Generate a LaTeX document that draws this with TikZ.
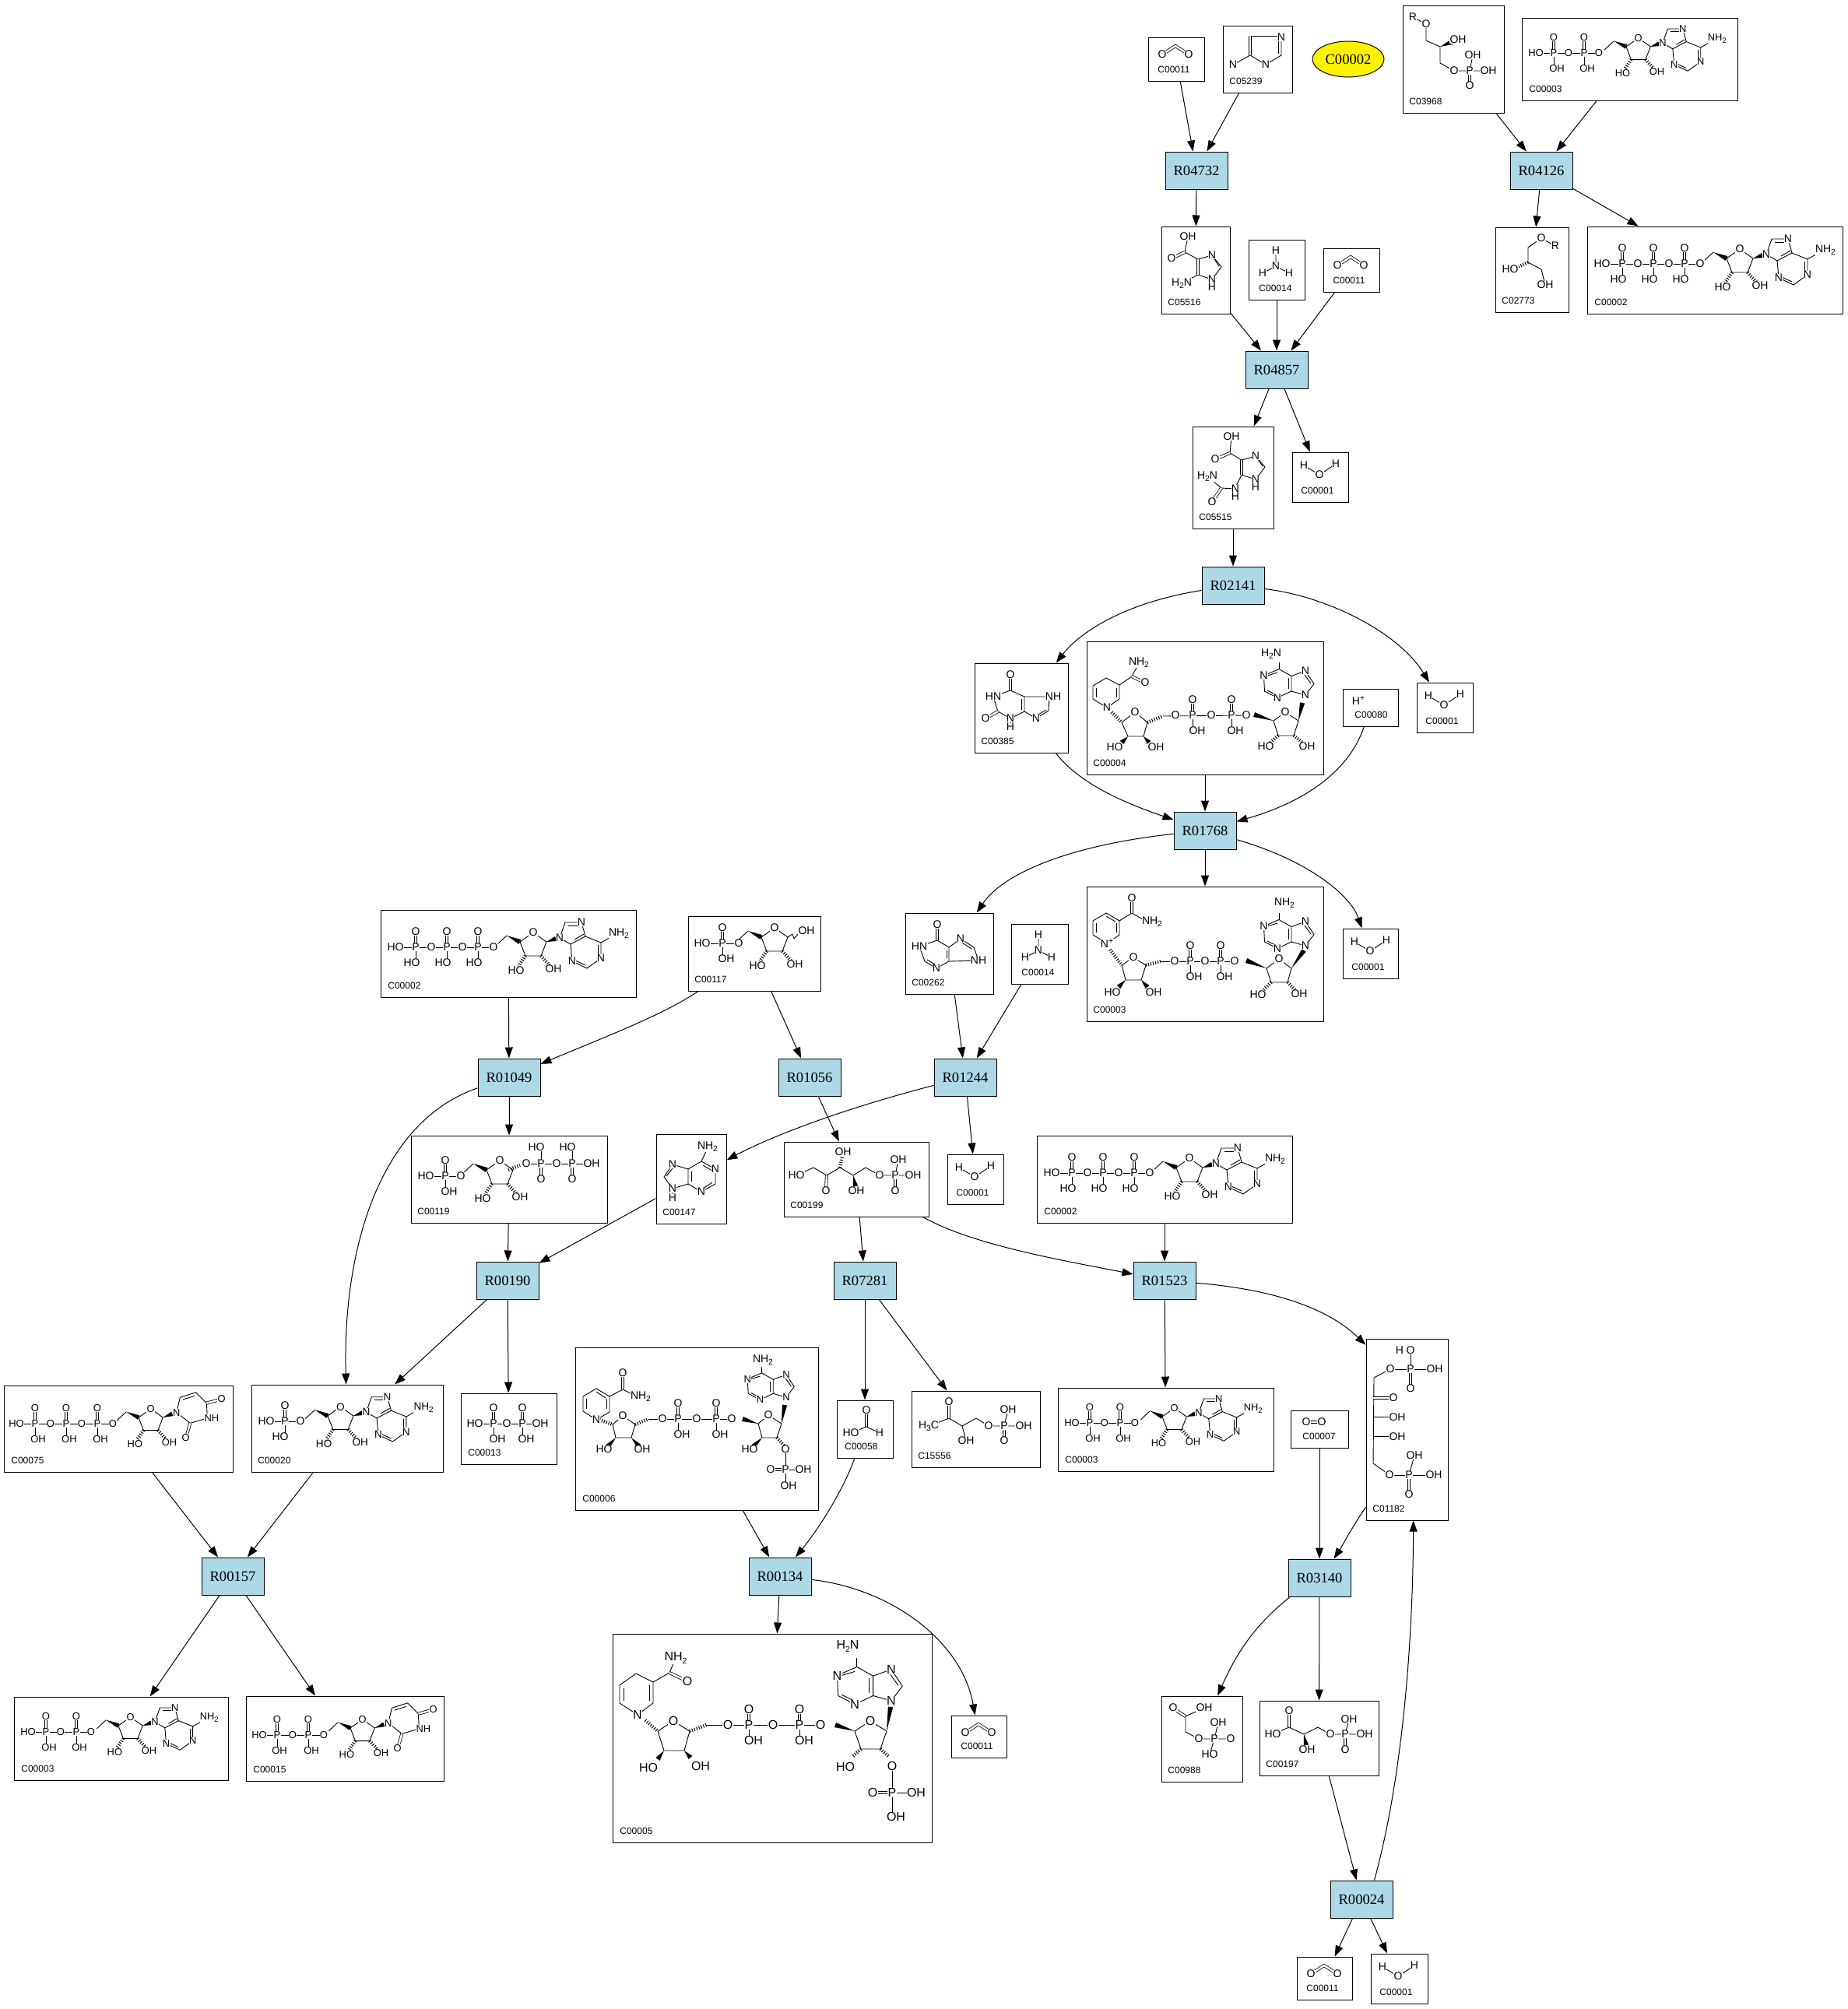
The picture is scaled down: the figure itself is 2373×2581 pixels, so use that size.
\documentclass[tikz,border=0pt]{standalone}
\usepackage{fontspec}
\setmainfont{Liberation Serif}
\newfontfamily\atomf{Liberation Sans}
\usetikzlibrary{arrows.meta,calc,shapes.geometric}
\definecolor{rxnblue}{HTML}{ADD8E6}
\newcounter{atomn}
\def\asz{7}
\tikzset{
  bond/.style={line width=.45pt,line join=round},
  dblb/.style={line width=.4pt,double=white,double distance=1.2pt},
  hashb/.style={line width=2.2pt,dash pattern=on .5pt off 1.05pt},
  atomsty/.style={font=\atomf\fontsize{\asz}{\asz}\selectfont,inner sep=.2pt,fill=white,transform shape},
  idlab/.style={font=\atomf\fontsize{6}{6}\selectfont,anchor=west,inner sep=0pt},
  cpdbox/.style={draw,fill=white,rectangle,inner sep=0pt,line width=.5pt},
  rxn/.style={draw,fill=rxnblue,rectangle,inner sep=0pt,line width=.5pt,minimum width=40pt,minimum height=24pt,font=\fontsize{9.3}{9.3}\selectfont},
  edge/.style={-{Triangle[length=7pt,width=5pt]},line width=.5pt}
}
\newcommand\atm[2]{\stepcounter{atomn}\node[atomsty] (at\theatomn) at (#1) {#2};}
\newcommand\lin[1]{\draw[bond] #1;}
\newcommand\dbl[1]{\draw[dblb] #1;}
\newcommand\hsh[2]{\draw[hashb] (#1) -- (#2);}
\newcommand\wdg[2]{\fill (#1) -- ($(#2)!1.6pt!90:(#1)$) -- ($(#2)!1.6pt!-90:(#1)$) -- cycle;}
\newcommand\sbs[1]{\raisebox{-.25em}{\fontsize{5.2}{5.2}\selectfont #1}}
\newcommand\sps[1]{\raisebox{.4em}{\fontsize{5.2}{5.2}\selectfont #1}}
\newcommand\phos[4]{\lin{(#1,#2)--(#1,#2+15)}\dbl{(#1,#2)--(#1,#2-17)}\atm{#1,#2}{P}\atm{#1,#2-20}{O}\atm{#1+#4,#2+20}{#3}}
% boxed compound: name, x0,y0,x1,y1, id, label x, body
\newcommand\cpd[8]{%
  \pgfmathsetmacro\cw{(#4-#2)*.5}\pgfmathsetmacro\ch{(#5-#3)*.5}\pgfmathsetmacro\hh{#5-#3-14.5}%
  \node[cpdbox,minimum width=\cw pt,minimum height=\ch pt] (#1) at ({(#2+#4)/2},{(#3+#5)/2}) {};
  \begin{scope}[shift={(#2,#3)}]
    \node[idlab] (#1id) at (#7,\hh) {#6};
    #8
  \end{scope}}
% ribose, origin at C4'
\newcommand\ribo{%
  \lin{(-30,4)--(-17,-8)}\wdg{-17,-8}{0,0}
  \lin{(0,0)--(7,18)--(27,18)--(34,0)--(17,-12)--cycle}
  \hsh{7,18}{-2,31}\hsh{27,18}{38,30}
  \atm{-5,37}{HO}\atm{43,35}{OH}\atm{17,-12}{O}}
\newcommand\adeB{%
  \wdg{34,0}{46,-4}
  \lin{(51,-5)--(58,-25)--(79,-25)--(84,-7)--(65,3)--(51,-5)}
  \lin{(65,3)--(67,25)--(86,34)--(104,21)--(104,1)--(84,-7)}
  \lin{(104,1)--(120,-8)}
  \lin{(62,-21)--(75,-21)}\lin{(70,-3)--(82,-10)}\lin{(71,24)--(84,30)}\lin{(100,17)--(100,4)}
  \atm{51,-5}{N}\atm{79,-25}{N}\atm{67,25}{N}\atm{104,21}{N}\atm{127,-11}{NH\sbs{2}}}
\newcommand\uraB{%
  \wdg{34,0}{47,-5}
  \lin{(53,-7)--(58,-28)--(80,-35)--(95,-20)--(96,1)--(72,8)--(53,-7)}
  \lin{(62,-25)--(78,-30)}\dbl{(95,-20)--(114,-25)}\dbl{(72,8)--(67,26)}
  \atm{53,-7}{N}\atm{116,-26}{O}\atm{102,1}{NH}\atm{66,28}{O}}
\newcommand\mATP{%
  \lin{(19,48)--(145,48)}
  \begin{scope}[shift={(179,41)}]\ribo\adeB\end{scope}
  \phos{45}{48}{HO}{-5}\phos{85}{48}{HO}{-5}\phos{125}{48}{HO}{-5}
  \atm{19,48}{HO}\atm{65,48}{O}\atm{105,48}{O}\atm{145,48}{O}}
\newcommand\mADP{%
  \def\asz{6.5}
  \lin{(18,45)--(99,45)}
  \begin{scope}[shift={(134,37)},scale=.92]\def\asz{7}\ribo\adeB\end{scope}
  \phos{41}{45}{OH}{4}\phos{80}{45}{OH}{4}
  \atm{18,45}{HO}\atm{60,45}{O}\atm{99,45}{O}}
\newcommand\mAMP{%
  \lin{(19,47)--(63,47)}
  \begin{scope}[shift={(98,40)},scale=.97]\ribo\adeB\end{scope}
  \phos{43}{47}{HO}{-6}
  \atm{19,47}{HO}\atm{63,47}{O}}
\newcommand\mUTP{%
  \def\asz{6.5}
  \lin{(16,49)--(140,49)}
  \begin{scope}[shift={(173,41)},scale=.92]\def\asz{7}\ribo\uraB\end{scope}
  \phos{40}{49}{OH}{4}\phos{80}{49}{OH}{4}\phos{120}{49}{OH}{4}
  \atm{16,49}{HO}\atm{60,49}{O}\atm{100,49}{O}\atm{140,49}{O}}
\newcommand\mUDP{%
  \def\asz{6.5}
  \lin{(17,50)--(100,50)}
  \begin{scope}[shift={(134,41)},scale=.92]\def\asz{7}\ribo\uraB\end{scope}
  \phos{40}{50}{OH}{3}\phos{80}{50}{OH}{4}
  \atm{17,50}{HO}\atm{60,50}{O}\atm{100,50}{O}}
\newcommand\mCOO{\dbl{(18,22)--(35,11)--(52,22)}\atm{18,22}{O}\atm{52,22}{O}}
\newcommand\mHOH{\lin{(15,17)--(35,29)--(56,15)}\atm{15,17}{H}\atm{35,29}{O}\atm{56,15}{H}}
\newcommand\mNHHH{\lin{(35,14)--(35,34)--(18,43)}\lin{(35,34)--(52,43)}\atm{35,14}{H}\atm{35,34}{N}\atm{18,43}{H}\atm{52,43}{H}}
% purine drawn upright, origin at N9
\newcommand\purU{%
  \lin{(0,0)--(11,-14.5)--(0,-31)--(-18,-24.5)--(-18,-5)--(0,0)}
  \lin{(-18,-5)--(-36,3.5)--(-52.5,-5)--(-53.5,-25)--(-34,-33.5)--(-18,-24.5)}
  \lin{(-34,-33.5)--(-34,-42)}
  \lin{(7,-15)--(-1,-26)}\lin{(-22,-22)--(-22,-8)}\lin{(-37,0)--(-49,-6)}\lin{(-49,-25)--(-36,-29)}
  \atm{0,0}{N}\atm{0,-31}{N}\atm{-36,3.5}{N}\atm{-53.5,-25}{N}}
\newcommand\mNADH{%
  \lin{(8,57)--(8,74)--(26,85)--(42,74)--(42,56)--(25,47)--(8,57)}
  \lin{(12,60)--(12,72)}\lin{(38,60)--(38,72)}
  \lin{(42,56)--(58,45)--(65,32)}\dbl{(58,45)--(72,52)}
  \hsh{32,91}{45,104}
  \lin{(45,104)--(62,91)--(78,104)--(73,122)--(53,122)--cycle}
  \wdg{53,122}{45,130}\wdg{73,122}{80,130}
  \hsh{78,104}{98,96}
  \lin{(98,96)--(205,95)}
  \wdg{240,102}{215,94}
  \lin{(240,102)--(255,91)--(272,102)--(266,121)--(246,121)--cycle}
  \hsh{246,121}{236,130}\hsh{266,121}{277,130}
  \wdg{272,102}{277,79}
  \begin{scope}[shift={(281,69)}]\purU\end{scope}
  \phos{136}{95}{OH}{6}\phos{186}{95}{OH}{5}
  \atm{26,85}{N}\atm{67,27}{NH\sbs{2}}\atm{75,53}{O}\atm{62,91}{O}\atm{36,136}{HO}\atm{89,136}{OH}
  \atm{114,95}{O}\atm{160,95}{O}\atm{205,95}{O}\atm{255,91}{O}\atm{230,135}{HO}\atm{283,135}{OH}
  \atm{237,16}{H\sbs{2}N}}
\newcommand\mNAD{%
  \lin{(8,44)--(8,62)--(26,73)--(42,62)--(42,44)--(25,34)--(8,44)}
  \lin{(12,47)--(12,59)}\lin{(38,47)--(38,59)}\lin{(25,38)--(37,45)}
  \lin{(42,44)--(58,34)--(72,42)}\dbl{(58,34)--(58,18)}
  \hsh{30,81}{45,101}
  \lin{(45,101)--(60,91)--(76,101)--(70,120)--(50,120)--cycle}
  \wdg{50,120}{41,129}\wdg{70,120}{78,129}
  \hsh{76,101}{95,96}
  \lin{(95,96)--(190,96)}
  \wdg{231,105}{205,95}
  \lin{(231,105)--(247,93)--(263,105)--(258,123)--(237,123)--cycle}
  \hsh{237,123}{227,133}\hsh{258,123}{268,133}
  \wdg{263,105}{279,82}
  \begin{scope}[shift={(281,76)}]\purU\end{scope}
  \phos{133}{96}{OH}{5}\phos{172}{96}{OH}{5}
  \atm{26,73}{N\sps{+}}\atm{84,45}{NH\sbs{2}}\atm{58,15}{O}\atm{60,91}{O}\atm{33,136}{HO}\atm{86,136}{OH}
  \atm{113,96}{O}\atm{152,96}{O}\atm{190,96}{O}\atm{247,93}{O}\atm{220,139}{HO}\atm{273,138}{OH}
  \atm{254,21}{NH\sbs{2}}}
\newcommand\mNADP{%
  \lin{(10,63)--(10,82)--(27,93)--(44,83)--(44,63)--(27,53)--(10,63)}
  \lin{(14,66)--(14,79)}\lin{(40,66)--(40,79)}\lin{(27,57)--(39,65)}
  \lin{(44,63)--(61,54)--(75,61)}\dbl{(61,54)--(61,36)}
  \hsh{31,93}{48,99}
  \lin{(48,99)--(61,88)--(77,99)--(72,116)--(52,116)--cycle}
  \wdg{52,116}{42,127}\wdg{72,116}{82,127}
  \hsh{77,99}{94,92}
  \lin{(94,92)--(201,92)}
  \wdg{235,98}{215,92}
  \lin{(235,98)--(248,87)--(265,98)--(259,116)--(240,116)--cycle}
  \wdg{240,116}{229,127}\hsh{259,116}{268,126}
  \wdg{265,98}{269,74}
  \lin{(270,131)--(270,176)}\lin{(270,157)--(293,157)}\dbl{(270,157)--(251,157)}
  \begin{scope}[shift={(271,64)},scale=.93]\purU\end{scope}
  \phos{132}{92}{OH}{5}\phos{181}{92}{OH}{5}
  \atm{27,93}{N}\atm{84,63}{NH\sbs{2}}\atm{61,33}{O}\atm{61,88}{O}\atm{37,131}{HO}\atm{86,131}{OH}
  \atm{112,92}{O}\atm{156,92}{O}\atm{201,92}{O}\atm{248,87}{O}\atm{224,131}{HO}
  \atm{270,131}{O}\atm{270,157}{P}\atm{251,157}{O}\atm{293,157}{OH}\atm{274,178}{OH}
  \atm{241,16}{NH\sbs{2}}}
\newcommand\mNADPH{%
  \def\asz{8}
  \lin{(9,66)--(9,89)--(32,104)--(52,89)--(52,62)--(30,51)--(9,66)}
  \lin{(14,70)--(14,86)}\lin{(47,66)--(47,86)}
  \lin{(52,62)--(73,50)--(79,36)}\dbl{(73,50)--(92,59)}
  \hsh{42,111}{58,125}
  \lin{(58,125)--(78,112)--(99,125)--(92,150)--(66,150)--cycle}
  \wdg{66,150}{58,161}\wdg{92,150}{100,159}
  \hsh{99,125}{121,117}
  \lin{(121,117)--(267,117)}
  \wdg{311,125}{286,117}
  \lin{(311,125)--(331,112)--(352,125)--(344,148)--(319,148)--cycle}
  \hsh{319,148}{309,157}\hsh{344,148}{354,157}
  \wdg{352,125}{357,94}
  \lin{(359,170)--(359,230)}\lin{(359,204)--(390,204)}\dbl{(359,204)--(334,204)}
  \begin{scope}[shift={(358,86)},scale=1.3]\def\asz{6.2}\purU\end{scope}
  \phos{175}{117}{OH}{6}\phos{240}{117}{OH}{6}
  \atm{32,104}{N}\atm{81,31}{NH\sbs{2}}\atm{96,61}{O}\atm{78,112}{O}\atm{46,172}{HO}\atm{113,170}{OH}
  \atm{148,117}{O}\atm{206,117}{O}\atm{267,117}{O}\atm{331,112}{O}\atm{299,171}{HO}
  \atm{359,170}{O}\atm{359,204}{P}\atm{334,204}{O}\atm{390,204}{OH}\atm{364,235}{OH}
  \atm{302,16}{H\sbs{2}N}}
\begin{document}
\begin{tikzpicture}[x=.5pt,y=-.5pt]
\fill[white] (0,0) rectangle (2373,2581);
\useasboundingbox (0,0) rectangle (2373,2581);
% reactions
\node[rxn] (r04732) at (1537,219) {R04732};
\node[rxn] (r04126) at (1980,219) {R04126};
\node[rxn] (r04857) at (1640,475) {R04857};
\node[rxn] (r02141) at (1584,752) {R02141};
\node[rxn] (r01768) at (1548,1067) {R01768};
\node[rxn] (r01049) at (654,1384) {R01049};
\node[rxn] (r01056) at (1040,1384) {R01056};
\node[rxn] (r01244) at (1240,1384) {R01244};
\node[rxn] (r00190) at (652,1645) {R00190};
\node[rxn] (r07281) at (1111,1645) {R07281};
\node[rxn] (r01523) at (1496,1645) {R01523};
\node[rxn] (r00157) at (299,2025) {R00157};
\node[rxn] (r00134) at (1002,2025) {R00134};
\node[rxn] (r03140) at (1695,2027) {R03140};
\node[rxn] (r00024) at (1749,2440) {R00024};
\node[draw,fill=yellow,ellipse,inner sep=0pt,line width=.5pt,minimum width=46pt,minimum height=23pt,font=\fontsize{9.3}{9.3}\selectfont] (c00002y) at (1732,76) {C00002};
% compounds
\cpd{c11a}{1475}{48}{1547}{104}{C00011}{12}{\mCOO}
\cpd{c5239}{1571}{33}{1660}{119}{C05239}{8}{%
  \lin{(36,13)--(72,13)}\lin{(75,18)--(75,38)--(55,50)--(35,38)--(13,50)}\dbl{(35,13)--(35,38)}\lin{(71,20)--(71,36)}
  \atm{75,15}{N}\atm{55,50}{N}\atm{13,50}{N}}
\cpd{c3968}{1802}{7}{1932}{145}{C03968}{8}{%
  \lin{(13,15)--(30,24)--(30,45)--(48,53)--(48,74)--(66,84)--(110,84)}
  \wdg{48,53}{63,47}\lin{(86,84)--(90,64)}\dbl{(86,84)--(86,103)}
  \atm{13,15}{R}\atm{30,24}{O}\atm{71,44}{OH}\atm{66,84}{O}\atm{86,84}{P}\atm{90,64}{OH}\atm{110,84}{OH}\atm{86,103}{O}}
\cpd{c3top}{1955}{23}{2232}{129}{C00003}{9}{\mADP}
\cpd{c5516}{1492}{291}{1580}{403}{C05516}{8}{%
  \lin{(34,13)--(30,33)--(47,42)--(65,37)--(77,52)--(65,68)--(47,62)--(26,73)}
  \dbl{(30,33)--(13,41)}\dbl{(47,42)--(47,62)}\lin{(65,68)--(65,78)}\lin{(68,42)--(74,51)}
  \atm{34,13}{OH}\atm{13,41}{O}\atm{65,37}{N}\atm{65,68}{N}\atm{65,78}{H}\atm{26,73}{H\sbs{2}N}}
\cpd{c14a}{1604}{308}{1676}{385}{C00014}{13}{\mNHHH}
\cpd{c11b}{1700}{319}{1772}{375}{C00011}{12}{\mCOO}
\cpd{c2773}{1921}{292}{2015}{401}{C02773}{8}{%
  \lin{(77,24)--(59,14)--(42,26)--(42,45)--(59,54)--(64,74)}\hsh{42,45}{27,52}
  \atm{59,14}{O}\atm{77,24}{R}\atm{19,54}{HO}\atm{64,74}{OH}}
\cpd{c2b}{2039}{291}{2367}{403}{C00002}{9}{\mATP}
\cpd{c5515}{1532}{548}{1636}{679}{C05515}{8}{%
  \lin{(50,13)--(48,34)--(63,43)--(81,38)--(93,52)--(81,68)--(63,62)--(55,78)}
  \lin{(55,80)--(37,79)--(19,64)}\dbl{(37,79)--(25,97)}\dbl{(48,34)--(29,42)}\dbl{(63,43)--(63,62)}
  \lin{(81,68)--(81,78)}\lin{(84,42)--(90,51)}\lin{(55,82)--(55,90)}
  \atm{50,13}{OH}\atm{29,42}{O}\atm{81,38}{N}\atm{81,68}{N}\atm{81,78}{H}\atm{19,64}{H\sbs{2}N}\atm{25,97}{O}\atm{55,80}{N}\atm{55,90}{H}}
\cpd{c1a}{1660}{581}{1732}{645}{C00001}{11}{\mHOH}
\cpd{c385}{1252}{852}{1372}{967}{C00385}{8}{%
  \dbl{(46,35)--(46,18)}\lin{(46,35)--(24,43)--(30,62)--(46,71)--(64,62)--(64,43)--(46,35)}
  \lin{(64,43)--(96,43)--(95,61)--(79,71)--(64,62)}\dbl{(30,62)--(16,70)}\lin{(46,71)--(46,82)}
  \lin{(60,46)--(60,60)}\lin{(82,66)--(92,60)}
  \atm{46,15}{O}\atm{24,43}{HN}\atm{14,71}{O}\atm{46,71}{N}\atm{46,82}{H}\atm{101,43}{NH}\atm{79,71}{N}}
\cpd{c4}{1396}{824}{1700}{995}{C00004}{8}{\mNADH}
\cpd{c80}{1725}{885}{1796}{933}{C00080}{15}{\atm{20,15}{H\sps{+}}}
\cpd{c1b}{1820}{877}{1892}{941}{C00001}{11}{\mHOH}
\cpd{c262}{1163}{1173}{1276}{1277}{C00262}{8}{%
  \dbl{(41,35)--(41,18)}\lin{(41,35)--(18,43)--(25,62)--(40,71)--(56,62)--(56,44)--(41,35)}
  \lin{(56,44)--(71,33)--(88,44)--(94,61)--(56,62)}\lin{(53,48)--(53,58)}\lin{(73,38)--(85,46)}\lin{(28,60)--(38,66)}
  \atm{41,15}{O}\atm{18,43}{HN}\atm{40,71}{N}\atm{71,33}{N}\atm{94,61}{NH}}
\cpd{c14b}{1299}{1187}{1372}{1264}{C00014}{13}{\mNHHH}
\cpd{c3b}{1396}{1139}{1700}{1312}{C00003}{8}{\mNAD}
\cpd{c1c}{1725}{1193}{1796}{1257}{C00001}{11}{\mHOH}
\cpd{c2c}{489}{1169}{817}{1281}{C00002}{9}{\mATP}
\cpd{c117}{884}{1177}{1054}{1273}{C00117}{8}{%
  \lin{(18,35)--(65,35)}
  \begin{scope}[shift={(94,27)}]\ribo\end{scope}
  \lin{(128,27)--(134,23)--(136,29)--(142,22)}
  \phos{44}{35}{OH}{5}\atm{18,35}{HO}\atm{65,35}{O}\atm{152,19}{OH}}
\cpd{c119}{528}{1459}{780}{1571}{C00119}{8}{%
  \lin{(19,52)--(64,52)}
  \begin{scope}[shift={(97,44)}]\ribo\end{scope}
  \hsh{125,44}{140,38}
  \lin{(148,36)--(232,36)}
  \lin{(167,36)--(167,15)}\lin{(207,36)--(207,15)}\dbl{(167,36)--(167,54)}\dbl{(207,36)--(207,54)}
  \phos{44}{52}{OH}{5}\atm{19,52}{HO}\atm{64,52}{O}\atm{148,36}{O}\atm{167,36}{P}\atm{187,36}{O}\atm{207,36}{P}
  \atm{161,15}{HO}\atm{201,15}{HO}\atm{167,56}{O}\atm{207,56}{O}\atm{232,36}{OH}}
\cpd{c147}{843}{1457}{933}{1572}{C00147}{8}{%
  \lin{(66,18)--(58,35)--(76,45)--(76,64)--(58,74)--(41,64)--(41,45)--(58,35)}
  \lin{(41,45)--(21,39)--(10,55)--(21,70)--(41,64)}\lin{(21,70)--(21,82)}
  \lin{(45,48)--(45,61)}\lin{(60,40)--(72,47)}\lin{(60,70)--(72,62)}\lin{(13,54)--(21,44)}
  \atm{66,16}{NH\sbs{2}}\atm{76,45}{N}\atm{58,74}{N}\atm{21,39}{N}\atm{21,70}{N}\atm{21,82}{H}}
\cpd{c199}{1007}{1467}{1193}{1563}{C00199}{8}{%
  \lin{(16,43)--(38,33)--(55,43)--(72,33)--(89,43)--(105,33)--(123,43)--(166,43)}
  \dbl{(55,43)--(54,61)}\hsh{72,33}{75,18}\wdg{89,43}{92,57}\lin{(143,43)--(147,23)}\dbl{(143,43)--(143,61)}
  \atm{16,43}{HO}\atm{54,63}{O}\atm{76,13}{OH}\atm{93,63}{OH}\atm{123,43}{O}\atm{143,43}{P}\atm{147,23}{OH}\atm{166,43}{OH}\atm{143,63}{O}}
\cpd{c1d}{1217}{1483}{1289}{1547}{C00001}{11}{\mHOH}
\cpd{c2d}{1332}{1459}{1660}{1571}{C00002}{9}{\mATP}
\cpd{c75}{5}{1780}{299}{1891}{C00075}{9}{\mUTP}
\cpd{c20}{323}{1779}{569}{1891}{C00020}{8}{\mAMP}
\cpd{c13}{592}{1790}{715}{1881}{C00013}{9}{%
  \lin{(18,39)--(102,39)}
  \phos{42}{39}{OH}{5}\phos{79}{39}{OH}{5}
  \atm{18,39}{HO}\atm{59,39}{O}\atm{102,39}{OH}}
\cpd{c6}{739}{1731}{1051}{1940}{C00006}{9}{\mNADP}
\cpd{c58}{1075}{1799}{1147}{1873}{C00058}{10}{%
  \dbl{(38,34)--(38,16)}\lin{(18,42)--(38,34)--(55,42)}
  \atm{38,13}{O}\atm{18,42}{HO}\atm{55,42}{H}}
\cpd{c15556}{1171}{1787}{1336}{1885}{C15556}{8}{%
  \lin{(28,43)--(48,35)--(65,45)--(83,35)--(99,45)--(144,45)}\dbl{(48,35)--(48,16)}\lin{(65,45)--(70,64)}
  \lin{(119,45)--(124,24)}\dbl{(119,45)--(119,62)}
  \atm{22,45}{H\sbs{3}C}\atm{48,14}{O}\atm{70,64}{OH}\atm{99,45}{O}\atm{119,45}{P}\atm{124,24}{OH}\atm{144,45}{OH}\atm{119,64}{O}}
\cpd{c3e}{1359}{1783}{1636}{1890}{C00003}{9}{\mADP}
\cpd{c7}{1658}{1812}{1732}{1860}{C00007}{15}{\dbl{(20,15)--(40,15)}\atm{20,15}{O}\atm{40,15}{O}}
\cpd{c1182}{1755}{1720}{1860}{1953}{C01182}{8}{%
  \lin{(31,39)--(10,50)--(9,160)--(30,175)}\lin{(31,39)--(88,39)}\lin{(57,15)--(57,39)}\dbl{(57,39)--(57,62)}
  \dbl{(9,76)--(33,76)}\lin{(9,100)--(34,100)}\lin{(9,125)--(34,125)}
  \lin{(30,175)--(87,175)}\lin{(55,175)--(62,150)}\dbl{(55,175)--(55,198)}
  \atm{43,15}{H}\atm{57,15}{O}\atm{31,39}{O}\atm{57,39}{P}\atm{88,39}{OH}\atm{57,64}{O}\atm{35,76}{O}\atm{40,101}{OH}\atm{40,126}{OH}
  \atm{30,175}{O}\atm{55,175}{P}\atm{62,150}{OH}\atm{87,175}{OH}\atm{55,200}{O}}
\cpd{c3f}{18}{2180}{293}{2287}{C00003}{9}{\mADP}
\cpd{c15}{316}{2179}{570}{2288}{C00015}{9}{\mUDP}
\cpd{c5}{787}{2099}{1197}{2367}{C00005}{9}{\mNADPH}
\cpd{c11c}{1222}{2204}{1293}{2258}{C00011}{12}{\mCOO}
\cpd{c988}{1492}{2179}{1596}{2289}{C00988}{8}{%
  \dbl{(31,26)--(17,17)}\lin{(55,15)--(31,26)--(31,46)--(48,55)--(89,55)}\lin{(68,55)--(73,34)}\lin{(68,55)--(62,75)}
  \atm{15,15}{O}\atm{55,15}{OH}\atm{48,55}{O}\atm{68,55}{P}\atm{73,34}{OH}\atm{89,55}{O}\atm{62,75}{HO}}
\cpd{c197}{1618}{2185}{1771}{2281}{C00197}{8}{%
  \lin{(17,43)--(38,34)--(57,43)--(75,34)--(91,43)--(135,43)}\dbl{(38,34)--(38,15)}\wdg{57,43}{60,57}
  \lin{(110,43)--(115,24)}\dbl{(110,43)--(110,61)}
  \atm{17,43}{HO}\atm{38,13}{O}\atm{61,63}{OH}\atm{91,43}{O}\atm{110,43}{P}\atm{115,24}{OH}\atm{135,43}{OH}\atm{110,63}{O}}
\cpd{c11d}{1666}{2514}{1737}{2569}{C00011}{12}{\mCOO}
\cpd{c1e}{1761}{2510}{1834}{2574}{C00001}{11}{\mHOH}
% connectors
\draw[edge] (c11a) -- (r04732);
\draw[edge] (c5239) -- (r04732);
\draw[edge] (r04732) -- (c5516);
\draw[edge] (c3968) -- (r04126);
\draw[edge] (c3top) -- (r04126);
\draw[edge] (r04126) -- (c2773);
\draw[edge] (r04126) -- (c2b);
\draw[edge] (c5516) -- (r04857);
\draw[edge] (c14a) -- (r04857);
\draw[edge] (c11b) -- (r04857);
\draw[edge] (r04857) -- (c5515);
\draw[edge] (r04857) -- (c1a);
\draw[edge] (c5515) -- (r02141);
\draw[edge] (r02141) .. controls (1440,775) and (1385,815) .. (c385);
\draw[edge] (r02141) .. controls (1700,765) and (1795,810) .. (c1b);
\draw[edge] (c385) .. controls (1385,1005) and (1440,1030) .. (r01768);
\draw[edge] (c4) -- (r01768);
\draw[edge] (c80) .. controls (1730,1000) and (1660,1035) .. (r01768);
\draw[edge] (r01768) .. controls (1380,1085) and (1290,1120) .. (c262);
\draw[edge] (r01768) -- (c3b);
\draw[edge] (r01768) .. controls (1680,1105) and (1735,1150) .. (c1c);
\draw[edge] (c2c) -- (r01049);
\draw[edge] (c117) .. controls (850,1305) and (770,1335) .. (r01049);
\draw[edge] (c117) -- (r01056);
\draw[edge] (r01049) -- (c119);
\draw[edge] (r01049) .. controls (490,1440) and (440,1600) .. (c20);
\draw[edge] (r01056) -- (c199);
\draw[edge] (c262) -- (r01244);
\draw[edge] (c14b) -- (r01244);
\draw[edge] (r01244) -- (c1d);
\draw[edge] (r01244) .. controls (1100,1420) and (1000,1455) .. (c147);
\draw[edge] (c119) -- (r00190);
\draw[edge] (c147) -- (r00190);
\draw[edge] (c199) -- (r07281);
\draw[edge] (c199) .. controls (1250,1600) and (1370,1620) .. (r01523);
\draw[edge] (c2d) -- (r01523);
\draw[edge] (r00190) -- (c20);
\draw[edge] (r00190) -- (c13);
\draw[edge] (r07281) -- (c58);
\draw[edge] (r07281) -- (c15556);
\draw[edge] (r01523) -- (c3e);
\draw[edge] (r01523) .. controls (1620,1655) and (1700,1675) .. (c1182.116);
\draw[edge] (c7) -- (r03140);
\draw[edge] (c1182.-118) .. controls (1735,1965) and (1725,1985) .. (r03140.53);
\draw[edge] (r03140.-147) .. controls (1615,2085) and (1590,2120) .. (c988.70);
\draw[edge] (r03140) -- (c197);
\draw[edge] (c197) -- (r00024);
\draw[edge] (r00024.56) .. controls (1800,2290) and (1815,2120) .. (c1182.-86.5);
\draw[edge] (r00024) -- (c11d);
\draw[edge] (r00024) -- (c1e);
\draw[edge] (c75) -- (r00157);
\draw[edge] (c20) -- (r00157);
\draw[edge] (r00157) -- (c3f);
\draw[edge] (r00157) -- (c15);
\draw[edge] (c6) -- (r00134);
\draw[edge] (c58) .. controls (1085,1910) and (1055,1960) .. (r00134);
\draw[edge] (r00134) -- (c5);
\draw[edge] (r00134) .. controls (1140,2040) and (1235,2105) .. (c11c);
\end{tikzpicture}
\end{document}
